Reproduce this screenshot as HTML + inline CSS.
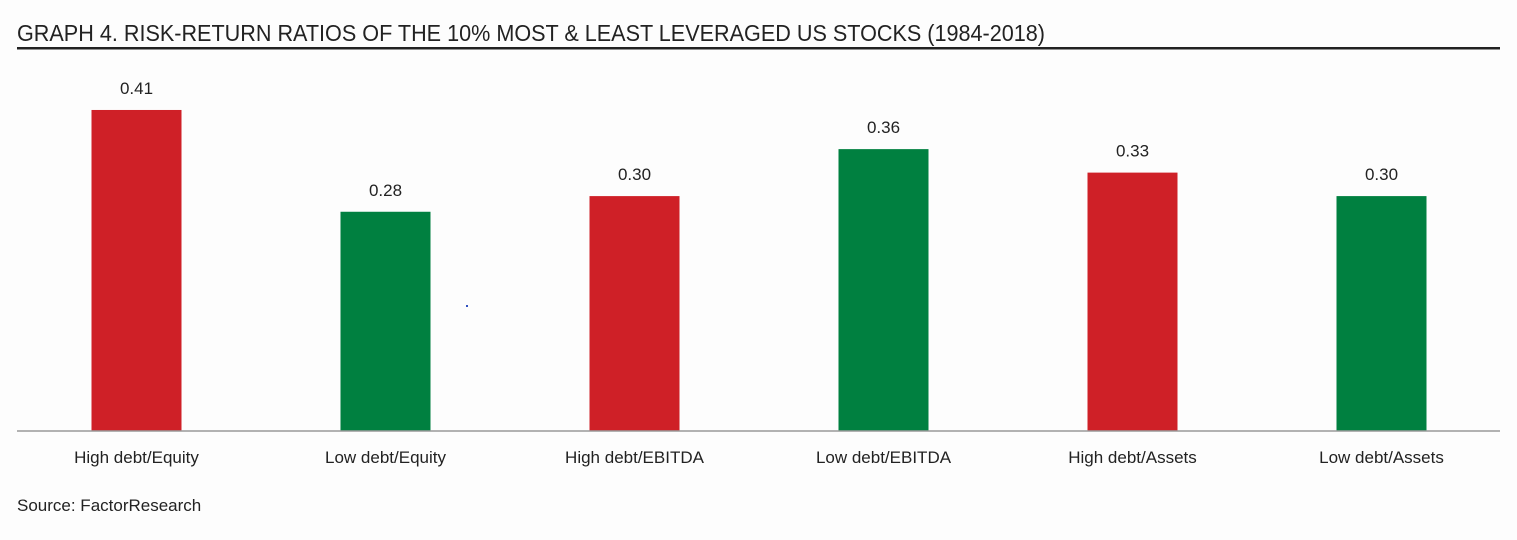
<!DOCTYPE html>
<html><head><meta charset="utf-8"><style>
html,body{margin:0;padding:0;background:#fff;}
svg{display:block;}
text{font-family:"Liberation Sans",sans-serif;}
</style></head><body>
<svg id="chart" width="1517" height="540" xmlns="http://www.w3.org/2000/svg">
<rect width="1517" height="540" fill="#fdfdfd"/>
<text x="17" y="41" font-size="23.5" fill="#222" textLength="1028" lengthAdjust="spacingAndGlyphs">GRAPH 4.  RISK-RETURN RATIOS OF THE 10% MOST &amp; LEAST LEVERAGED US STOCKS (1984-2018)</text>
<rect x="17" y="47" width="1483" height="2.5" fill="#222"/>
<g id="bars"></g>
<line x1="17" y1="431" x2="1500" y2="431" stroke="#9a9a9a" stroke-width="1.5"/>
<rect x="466" y="305" width="2" height="2" fill="#3050c0"/>
<text x="17" y="511" font-size="17" fill="#222">Source: FactorResearch</text>
</svg>
<script>
const categories = ["High debt/Equity","Low debt/Equity","High debt/EBITDA","Low debt/EBITDA","High debt/Assets","Low debt/Assets"];
const values = [0.41,0.28,0.30,0.36,0.33,0.30];
const valueLabels = ["0.41","0.28","0.30","0.36","0.33","0.30"];
const seriesType = ["high","low","high","low","high","low"];

const NS = "http://www.w3.org/2000/svg";
const baseY = 431, pxPerUnit = 783, bandStart = 12, band = 249, barW = 90;
const xCenter = i => bandStart + band * (i + 0.5);
const yScale = v => baseY - v * pxPerUnit;
const g = document.getElementById("bars");
categories.forEach((c, i) => {
  const cx = xCenter(i), top = yScale(values[i]);
  const r = document.createElementNS(NS, "rect");
  r.setAttribute("x", cx - barW / 2);
  r.setAttribute("y", top);
  r.setAttribute("width", barW);
  r.setAttribute("height", baseY - top);
  r.setAttribute("fill", seriesType[i] === "high" ? "#cf2027" : "#008040");
  
  
  g.appendChild(r);
  const t = document.createElementNS(NS, "text");
  t.setAttribute("x", cx);
  t.setAttribute("y", top - 16);
  t.setAttribute("text-anchor", "middle");
  t.setAttribute("font-size", "17");
  t.setAttribute("fill", "#222");
  t.textContent = valueLabels[i];
  
  
  g.appendChild(t);
  const l = document.createElementNS(NS, "text");
  l.setAttribute("x", cx);
  l.setAttribute("y", 463);
  l.setAttribute("text-anchor", "middle");
  l.setAttribute("font-size", "17");
  l.setAttribute("fill", "#222");
  l.textContent = c;
  
  
  g.appendChild(l);
});
</script>
</body></html>
